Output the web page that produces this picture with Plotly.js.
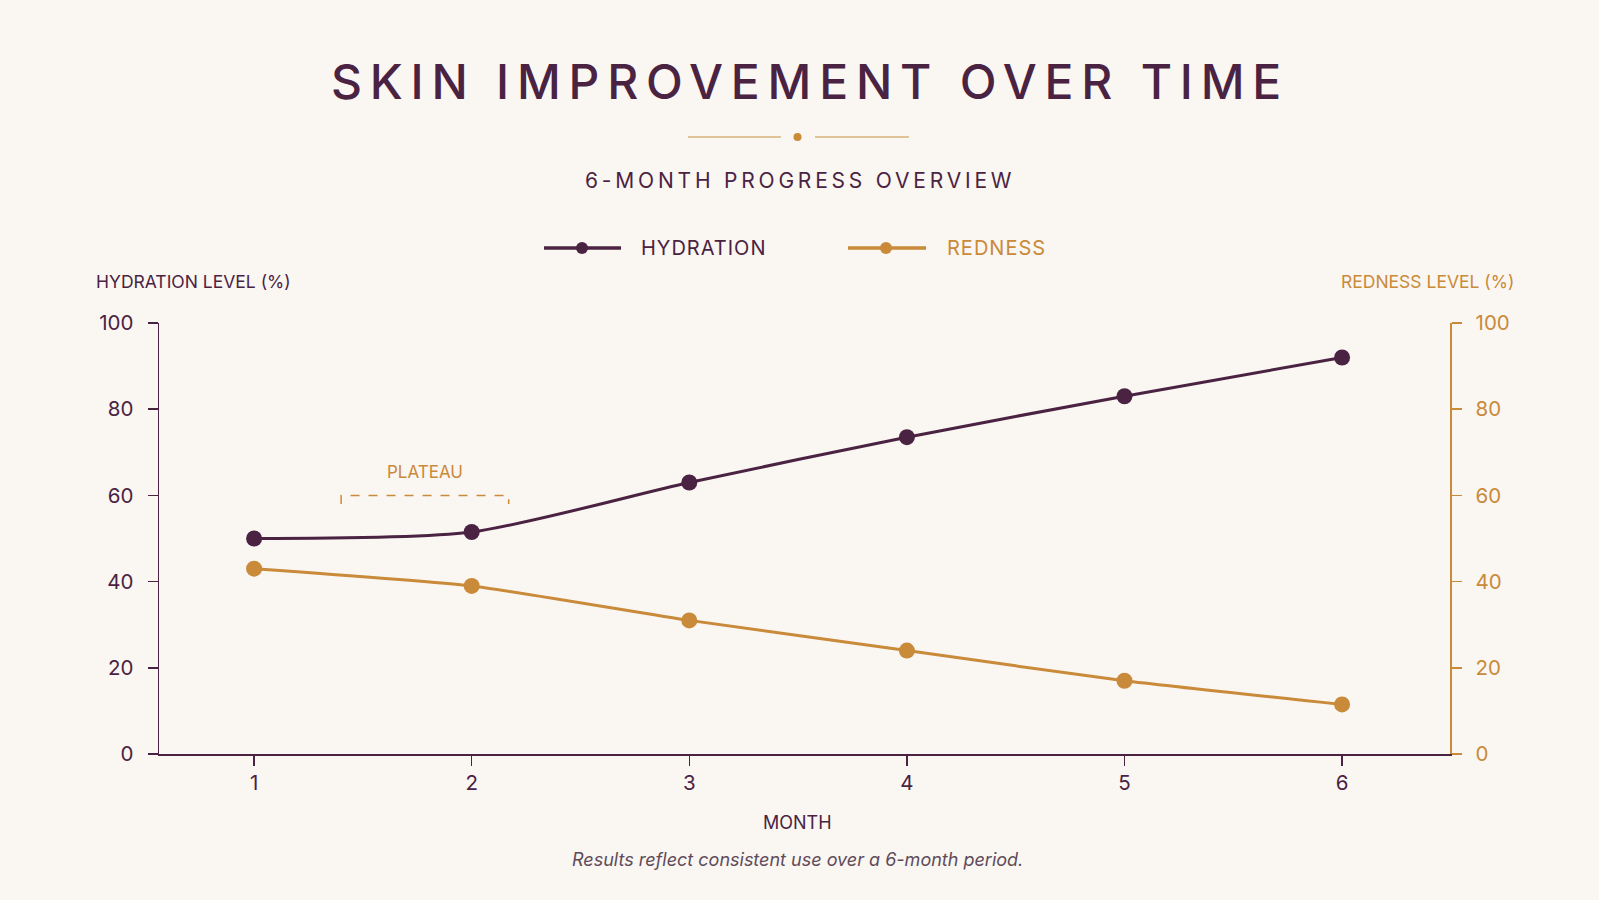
<!DOCTYPE html>
<html>
<head>
<meta charset="utf-8">
<script src="https://cdn.plot.ly/plotly-3.0.1.min.js"></script>
<style>
  html, body { margin: 0; padding: 0; background: #faf6f2; }
  #chart { width: 1599px; height: 900px; }
  .gtitle { letter-spacing: 7.8px; }
  text[data-unformatted="6-MONTH PROGRESS OVERVIEW"] { letter-spacing: 3.8px; }
  text[data-unformatted="HYDRATION"], text[data-unformatted="REDNESS"] { letter-spacing: 1px; }
</style>
</head>
<body>
<div id="chart"></div>
<script>
// ---- Data ----
const months = [1, 2, 3, 4, 5, 6];
const hydration = [50, 51.5, 63, 73.5, 83, 92];
const redness = [43, 39, 31, 24, 17, 11.5];
const yTicks = [0, 20, 40, 60, 80, 100];
const plateauRange = [1.4, 2.17];
const plateauLevel = 60;

// ---- Styles ----
const PURPLE = '#4a2342';
const GOLD = '#c98a3a';
const BG = '#faf6f2';
const FONT = 'Inter, "Open Sans", sans-serif';

// plot area in pixels
const L = 159, R = 1450, T = 323, B = 754;
const W = R - L, H = B - T;
const px = x => (x - L) / W;
const py = y => (B - y) / H;

const traces = [
  {
    x: months, y: hydration, name: 'HYDRATION', type: 'scatter', mode: 'lines+markers',
    line: { color: PURPLE, width: 3, shape: 'spline', smoothing: 0.7 },
    marker: { color: PURPLE, size: 16 },
    yaxis: 'y', showlegend: false
  },
  {
    x: months, y: redness, name: 'REDNESS', type: 'scatter', mode: 'lines+markers',
    line: { color: GOLD, width: 3, shape: 'spline', smoothing: 0.5 },
    marker: { color: GOLD, size: 16 },
    yaxis: 'y2', showlegend: false
  }
];

const legendY = py(248);
const shapes = [
  // divider under title
  { type: 'line', xref: 'paper', yref: 'paper', x0: px(688), x1: px(781), y0: py(137), y1: py(137), line: { color: '#d9b27a', width: 1.5 } },
  { type: 'line', xref: 'paper', yref: 'paper', x0: px(815), x1: px(909), y0: py(137), y1: py(137), line: { color: '#d9b27a', width: 1.5 } },
  { type: 'circle', xref: 'paper', yref: 'paper', x0: px(793.5), x1: px(801.5), y0: py(141), y1: py(133), fillcolor: GOLD, line: { width: 0 } },
  // legend
  { type: 'line', xref: 'paper', yref: 'paper', x0: px(544), x1: px(621), y0: legendY, y1: legendY, line: { color: PURPLE, width: 3.5 } },
  { type: 'circle', xref: 'paper', yref: 'paper', x0: px(576), x1: px(588), y0: py(254), y1: py(242), fillcolor: PURPLE, line: { width: 0 } },
  { type: 'line', xref: 'paper', yref: 'paper', x0: px(848), x1: px(926), y0: legendY, y1: legendY, line: { color: GOLD, width: 3.5 } },
  { type: 'circle', xref: 'paper', yref: 'paper', x0: px(880), x1: px(892), y0: py(254), y1: py(242), fillcolor: GOLD, line: { width: 0 } },
  // plateau bracket
  { type: 'path', xref: 'x', yref: 'y',
    path: `M ${plateauRange[0]},${plateauLevel - 2} L ${plateauRange[0]},${plateauLevel} L ${plateauRange[1]},${plateauLevel} L ${plateauRange[1]},${plateauLevel - 2}`,
    line: { color: GOLD, width: 1.5, dash: 'dash' } }
];

const annotations = [
  { text: '6-MONTH PROGRESS OVERVIEW', xref: 'paper', yref: 'paper', x: px(799.5), y: py(180.5), xanchor: 'center', yanchor: 'middle', showarrow: false,
    font: { family: FONT, size: 21, color: PURPLE } },
  { text: 'HYDRATION', xref: 'paper', yref: 'paper', x: px(639), y: legendY, xanchor: 'left', yanchor: 'middle', showarrow: false,
    font: { family: FONT, size: 20, color: PURPLE } },
  { text: 'REDNESS', xref: 'paper', yref: 'paper', x: px(945), y: legendY, xanchor: 'left', yanchor: 'middle', showarrow: false,
    font: { family: FONT, size: 20, color: GOLD } },
  { text: 'HYDRATION LEVEL (%)', xref: 'paper', yref: 'paper', x: px(94), y: py(281.5), xanchor: 'left', yanchor: 'middle', showarrow: false,
    font: { family: FONT, size: 17.5, color: PURPLE } },
  { text: 'REDNESS LEVEL (%)', xref: 'paper', yref: 'paper', x: px(1516), y: py(281.5), xanchor: 'right', yanchor: 'middle', showarrow: false,
    font: { family: FONT, size: 17.5, color: GOLD } },
  { text: 'PLATEAU', xref: 'x', yref: 'y', x: (plateauRange[0] + plateauRange[1]) / 2, y: 65.5, xanchor: 'center', yanchor: 'middle', showarrow: false,
    font: { family: FONT, size: 17, color: GOLD } },
  { text: 'MONTH', xref: 'paper', yref: 'paper', x: px(797.5), y: py(822), xanchor: 'center', yanchor: 'middle', showarrow: false,
    font: { family: FONT, size: 18, color: PURPLE } },
  { text: '<i>Results reflect consistent use over a 6-month period.</i>', xref: 'paper', yref: 'paper', x: px(797.5), y: py(859), xanchor: 'center', yanchor: 'middle', showarrow: false,
    font: { family: FONT, size: 18, color: '#5e4b5a' } }
];

const layout = {
  width: 1599, height: 900,
  paper_bgcolor: BG, plot_bgcolor: BG,
  margin: { l: L, r: 1599 - R, t: T, b: 900 - B, pad: 0 },
  font: { family: FONT, color: PURPLE },
  title: { text: 'SKIN IMPROVEMENT OVER TIME', x: 810 / 1599, xanchor: 'center', y: 1 - 82 / 900, yanchor: 'middle',
    font: { family: FONT, size: 48, color: PURPLE, weight: 500 } },
  showlegend: false,
  xaxis: {
    range: [0.563, 6.496], tickvals: months, ticktext: months.map(String),
    showgrid: false, zeroline: false, showline: true, linecolor: PURPLE, linewidth: 1.5,
    ticks: 'outside', ticklen: 10, tickwidth: 1.5, tickcolor: PURPLE,
    tickfont: { family: FONT, size: 20.5, color: PURPLE }
  },
  yaxis: {
    range: [0, 100], tickvals: yTicks, showgrid: false, zeroline: false,
    showline: true, linecolor: PURPLE, linewidth: 1.5,
    ticks: 'outside', ticklen: 10, tickwidth: 1.5, tickcolor: PURPLE, ticklabelstandoff: 10,
    tickfont: { family: FONT, size: 20.5, color: PURPLE }
  },
  yaxis2: {
    range: [0, 100], tickvals: yTicks, overlaying: 'y', side: 'right', showgrid: false, zeroline: false,
    showline: true, linecolor: GOLD, linewidth: 1.5,
    ticks: 'outside', ticklen: 10, tickwidth: 1.5, tickcolor: GOLD, ticklabelstandoff: 10,
    tickfont: { family: FONT, size: 20.5, color: GOLD }
  },
  shapes: shapes,
  annotations: annotations
};

Plotly.newPlot('chart', traces, layout, { displayModeBar: false, staticPlot: true });
</script>
</body>
</html>
